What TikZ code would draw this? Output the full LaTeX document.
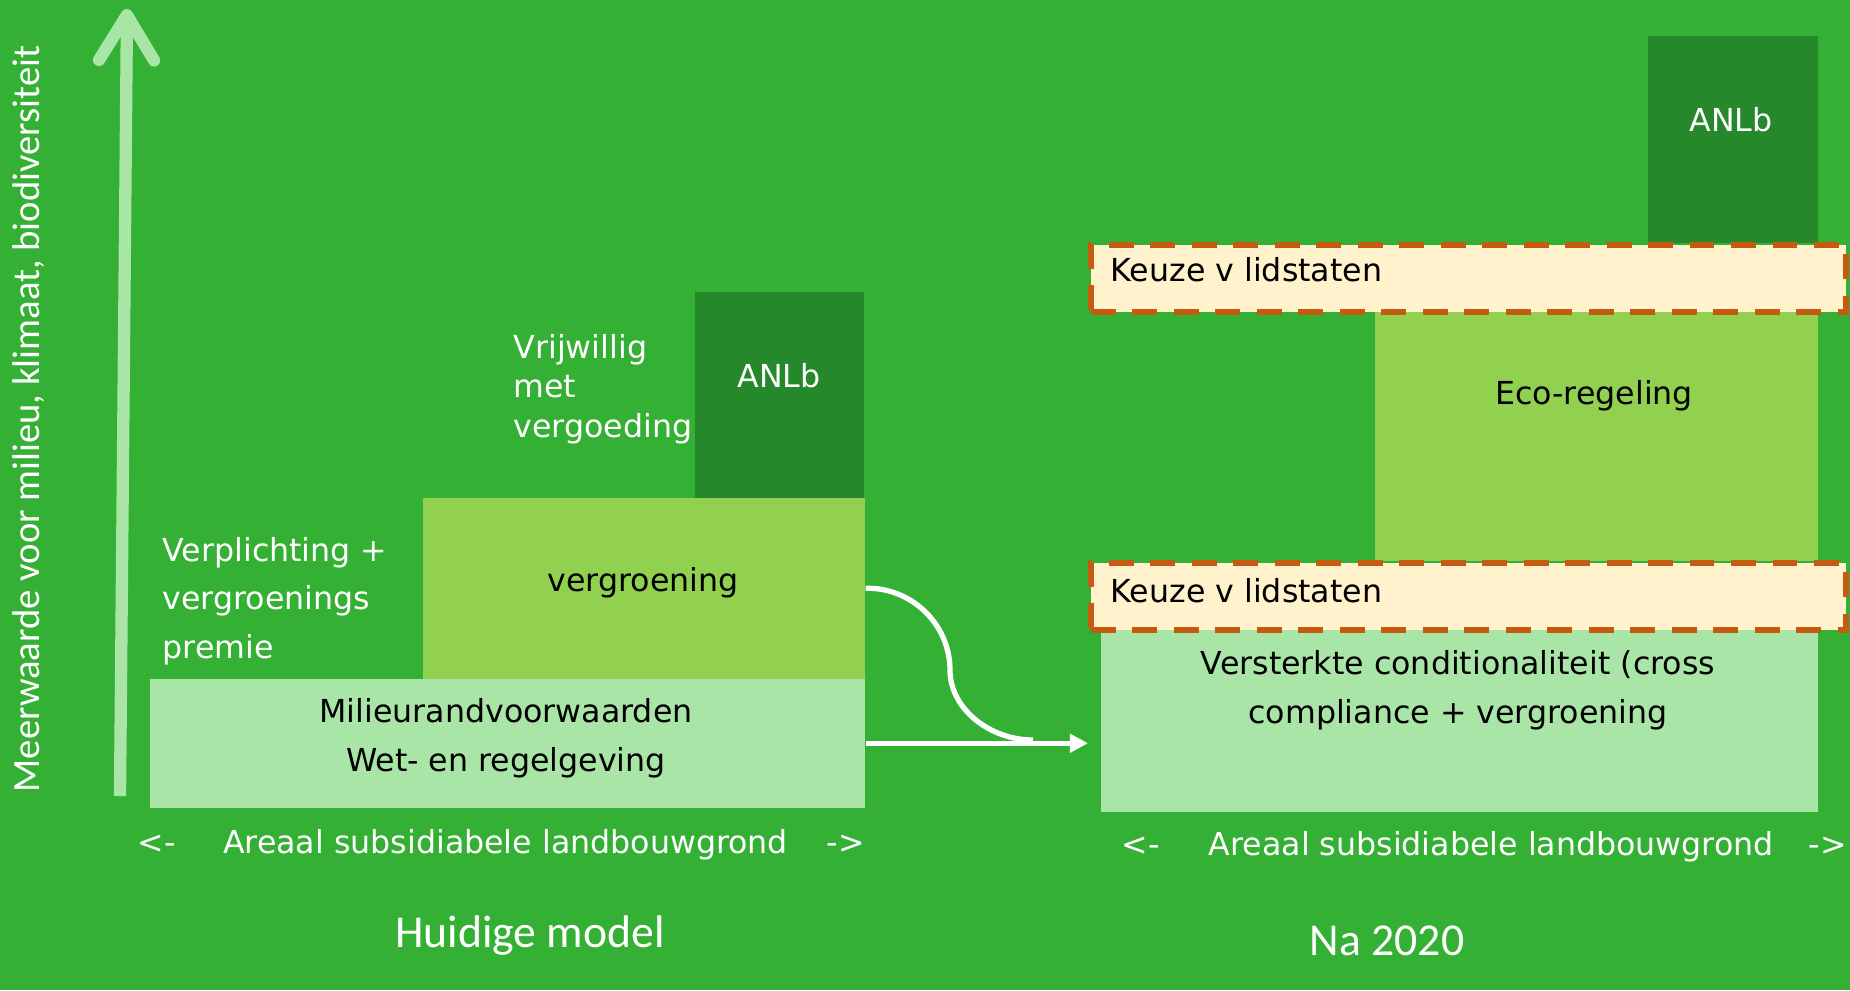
\documentclass[tikz,border=0pt]{standalone}
\usepackage{fontspec}
\setmainfont{DejaVu Sans}
\newfontfamily\calfont{Carlito}
\usetikzlibrary{arrows.meta}
\definecolor{bggreen}{RGB}{52,176,52}
\definecolor{palegreen}{RGB}{169,229,167}
\definecolor{midgreen}{RGB}{146,208,80}
\definecolor{darkgreen}{RGB}{37,136,42}
\definecolor{keuzefill}{RGB}{255,242,204}
\definecolor{keuzeline}{RGB}{197,90,17}
\tikzset{
  blk/.style={inner sep=0pt, anchor=north west},
  lbl/.style={inner sep=0pt, font=\fontsize{9}{13.8}\selectfont},
  title/.style={inner sep=0pt, white, anchor=base, font=\calfont\fontsize{13}{15}\selectfont},
  keuze/.style={blk, fill=keuzefill, draw=keuzeline, line width=1.7pt,
    dash pattern=on 7pt off 4.8pt, minimum width=7.55cm, minimum height=0.67cm},
  flow/.style={white, line width=1.5pt},
}

\begin{document}
\begin{tikzpicture}[x=0.01cm, y=-0.01cm]
  \fill[bggreen] (0,0) rectangle (1850,990);
  \useasboundingbox (0,0) rectangle (1850,990);

  \coordinate (axbot) at (120,796);
  \coordinate (axtop) at (127,9);
  \draw[palegreen, line width=3.5pt, -{Straight Barb[round, length=0.45cm, width=0.55cm]}] (axbot) -- (axtop);
  \node[rotate=90, inner sep=0pt, white, anchor=base, font=\calfont\fontsize{11}{13}\selectfont] (axlabel) at (40,419) {Meerwaarde voor milieu, klimaat, biodiversiteit};

  \node[blk, fill=palegreen, minimum width=7.15cm, minimum height=1.29cm] (milieu) at (149,678) {};
  \node[blk, fill=midgreen, minimum width=4.42cm, minimum height=1.81cm] (vergr) at (422,497) {};
  \node[blk, fill=darkgreen, minimum width=1.69cm, minimum height=2.06cm] (anlbL) at (694,291) {};
  \node[lbl, align=center] (milieut) at (506,738) {Milieurandvoorwaarden\\Wet- en regelgeving};
  \node[lbl, anchor=base] (vergrt) at (643,591) {vergroening};
  \node[lbl, anchor=base, white] (anlbLt) at (779,387) {ANLb};
  \node[lbl, align=left, anchor=west, white] (verplt) at (162,601) {Verplichting +\\vergroenings\\premie};
  \node[lbl, align=left, anchor=west, white, font=\fontsize{9}{11.2}\selectfont] (vrijwt) at (513,389) {Vrijwillig\\met\\vergoeding};
  \node[lbl, white, anchor=base west] (arealL) at (137,853) {<-\hspace{13.5pt}Areaal subsidiabele landbouwgrond\hspace{11pt}->};
  \node[title] (huidig) at (530,947) {Huidige model};

  \node[blk, fill=darkgreen, minimum width=1.70cm, minimum height=2.07cm] (anlbR) at (1647,35) {};
  \node[blk, fill=midgreen, minimum width=4.43cm, minimum height=2.51cm] (eco) at (1374,309) {};
  \node[blk, fill=palegreen, minimum width=7.17cm, minimum height=1.86cm] (cond) at (1100,625) {};
  \node[keuze] (keuzeU) at (1088,242) {};
  \node[keuze] (keuzeL) at (1088,560) {};
  \node[lbl, white, anchor=base] (anlbRt) at (1731,131) {ANLb};
  \node[lbl, anchor=base west] (keuzeUt) at (1110,281) {Keuze v lidstaten};
  \node[lbl, anchor=base] (ecot) at (1594,404) {Eco-regeling};
  \node[lbl, anchor=base west] (keuzeLt) at (1110,602) {Keuze v lidstaten};
  \node[lbl, align=center] (condt) at (1458,690) {Versterkte conditionaliteit (cross\\compliance + vergroening};
  \node[lbl, white, anchor=base west] (arealR) at (1121,855) {<-\hspace{14pt}Areaal subsidiabele landbouwgrond\hspace{10pt}->};
  \node[title] (na) at (1387,955) {Na 2020};

  \coordinate (bend) at (950,670);
  \coordinate (merge) at (1033,740);
  \draw[flow] (vergr.east) .. controls (911,587) and (950,624) .. (bend)
    .. controls (950,709) and (990,740) .. (merge);
  \draw[flow, -{Triangle[length=0.18cm, width=0.18cm]}] (milieu.east) -- (milieu.east -| keuzeL.west);
\end{tikzpicture}
\end{document}
